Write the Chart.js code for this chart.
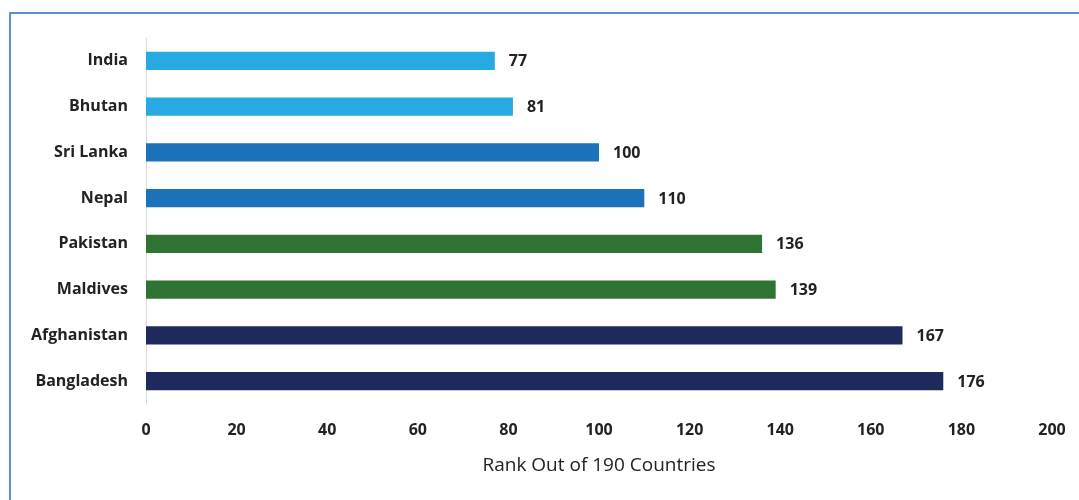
<!DOCTYPE html>
<html lang="en">
<head>
<meta charset="UTF-8">
<title>Rank Out of 190 Countries</title>
<script src="https://cdn.jsdelivr.net/npm/chart.js@4.4.1/dist/chart.umd.min.js"></script>
<style>
  html, body { margin: 0; padding: 0; background: #fff; }
  body { width: 1079px; height: 500px; position: relative; overflow: hidden; }
  .frame {
    position: absolute; left: 9px; top: 12px;
    width: 1090px; height: 520px;
    border: 2px solid #5b8fd0;
    box-sizing: border-box;
  }
  #wrap { position: absolute; left: 0; top: 0; width: 1079px; height: 500px; }
</style>
</head>
<body>
<div class="frame"></div>
<div id="wrap"><canvas id="rankChart"></canvas></div>

<script>
  // data
  var countries = ["India", "Bhutan", "Sri Lanka", "Nepal", "Pakistan", "Maldives", "Afghanistan", "Bangladesh"];
  var ranks = [77, 81, 100, 110, 136, 139, 167, 176];
  var barColors = ["#27a9e1", "#27a9e1", "#1c72bb", "#1c72bb", "#2f7432", "#2f7432", "#1f2a5c", "#1f2a5c"];
  var xTicks = [0, 20, 40, 60, 80, 100, 120, 140, 160, 180, 200];
  var axisTitle = "Rank Out of 190 Countries";

  var fontFamily = "'Open Sans', Lato, sans-serif";

  // value labels at the end of each bar
  var valueLabels = {
    id: "valueLabels",
    afterDatasetsDraw: function (chart) {
      var ctx = chart.ctx;
      var meta = chart.getDatasetMeta(0);
      ctx.save();
      ctx.font = "bold 16px " + fontFamily;
      ctx.fillStyle = "#222";
      ctx.textAlign = "left";
      ctx.textBaseline = "middle";
      meta.data.forEach(function (bar, i) {
        ctx.fillText(ranks[i], bar.x + 14, bar.y + 1);
      });
      ctx.restore();
    }
  };

  var ctx = document.getElementById("rankChart").getContext("2d");
  var rankChart = new Chart(ctx, {
    type: "bar",
    data: {
      labels: countries,
      datasets: [{
        data: ranks,
        backgroundColor: barColors,
        barPercentage: 0.4,
        categoryPercentage: 1.0
      }]
    },
    options: {
      indexAxis: "y",
      responsive: true,
      maintainAspectRatio: false,
      animation: false,
      layout: { padding: { top: 38, right: 27, bottom: 23, left: 0 } },
      plugins: {
        legend: { display: false },
        tooltip: { enabled: false }
      },
      scales: {
        x: {
          min: 0,
          max: 200,
          afterBuildTicks: function (scale) {
            scale.ticks = xTicks.map(function (v) { return { value: v }; });
          },
          afterFit: function (scale) {
            scale.height = 73;
            scale.paddingLeft = 0;
            scale.paddingRight = 0;
          },
          grid: { display: false, drawTicks: false },
          border: { display: false },
          ticks: {
            padding: 17,
            color: "#222",
            font: { family: fontFamily, size: 16, weight: "bold" }
          },
          title: {
            display: true,
            text: axisTitle,
            color: "#222",
            padding: 0,
            font: { family: fontFamily, size: 19 }
          }
        },
        y: {
          afterFit: function (scale) { scale.width = 146; },
          grid: { display: false, drawTicks: false },
          border: { display: true, color: "#d9d9d9", width: 1 },
          ticks: {
            padding: 18,
            color: "#222",
            font: { family: fontFamily, size: 16, weight: "bold" }
          }
        }
      }
    },
    plugins: [valueLabels]
  });
</script>
</body>
</html>
